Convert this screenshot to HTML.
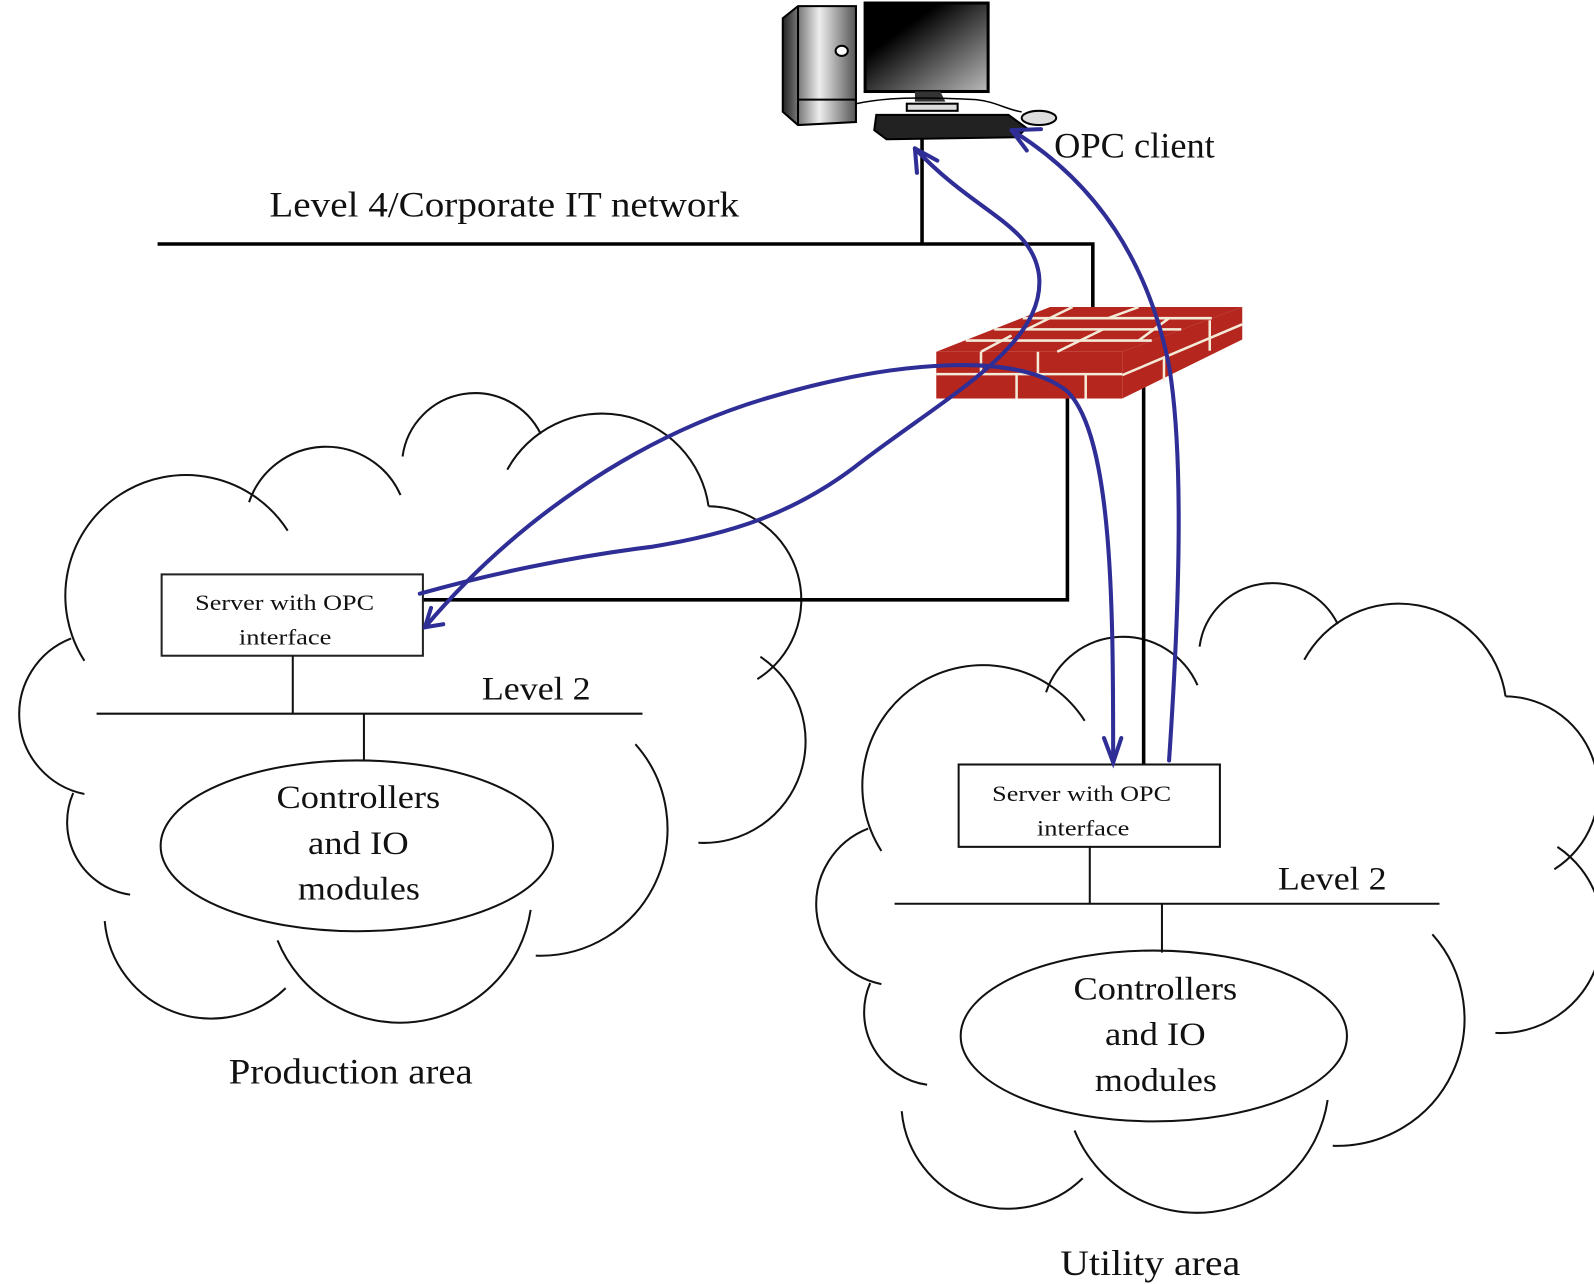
<!DOCTYPE html>
<html><head><meta charset="utf-8"><style>
html,body{margin:0;padding:0;background:#fff;}
svg{display:block;}
text{font-family:"Liberation Serif",serif;fill:#111;}
</style></head><body>
<svg width="1594" height="1284" viewBox="0 0 1568 1263" preserveAspectRatio="none" xmlns="http://www.w3.org/2000/svg">
<defs>
<g id="cloud" fill="none" stroke="#111" stroke-width="2">
<path d="M83,650 A118,118 0 0 1 283,522"/>
<path d="M245,494 A80,80 0 0 1 394,487"/>
<path d="M396,449 A72,72 0 0 1 532,427"/>
<path d="M499,462 A106,106 0 0 1 697,498"/>
<path d="M697,498 A92,92 0 0 1 745,668"/>
<path d="M748,646 A100,100 0 0 1 687,829"/>
<path d="M625,732 A125,125 0 0 1 527,940"/>
<path d="M522,895 A130,130 0 0 1 273,925"/>
<path d="M281,972 A105,105 0 0 1 103,906"/>
<path d="M128,880 A72,72 0 0 1 72,780"/>
<path d="M83,781 A80,80 0 0 1 70,628"/>
</g>
<linearGradient id="mon" x1="0" y1="0" x2="1" y2="1"><stop offset="0.3" stop-color="#000"/><stop offset="1" stop-color="#bbb"/></linearGradient>
<linearGradient id="tow" x1="0" y1="0" x2="1" y2="0"><stop offset="0" stop-color="#222"/><stop offset="0.5" stop-color="#eee"/><stop offset="1" stop-color="#555"/></linearGradient>
</defs>

<use href="#cloud"/>
<use href="#cloud" transform="translate(784,187)"/>

<!-- computer -->
<polygon points="770,18 785,6 842,6 842,120 785,123 770,110" fill="url(#tow)" stroke="#000" stroke-width="2"/>
<line x1="785" y1="6" x2="785" y2="123" stroke="#000" stroke-width="2"/>
<line x1="785" y1="98" x2="842" y2="98" stroke="#000" stroke-width="2"/>
<ellipse cx="828" cy="50" rx="6" ry="5" fill="#fff" stroke="#000" stroke-width="2"/>
<rect x="851" y="3" width="121" height="87" fill="url(#mon)" stroke="#000" stroke-width="3"/>
<polygon points="900,90 925,90 930,100 900,100" fill="#333"/>
<rect x="892" y="102" width="50" height="7" fill="#ddd" stroke="#000" stroke-width="2"/>
<path d="M842,102 C870,96 900,95 960,98 C980,100 990,108 1005,110" fill="none" stroke="#000" stroke-width="1.5"/>
<polygon points="862,113 992,113 1010,126 1000,135 872,137 860,128" fill="#222" stroke="#000" stroke-width="2"/>
<ellipse cx="1022" cy="116" rx="17" ry="7" fill="#ddd" stroke="#000" stroke-width="2"/>

<g stroke="#000" stroke-width="3.5" fill="none">
<line x1="907" y1="136" x2="907" y2="240"/>
<polyline points="155,240 1075,240 1075,302"/>
<polyline points="416,590 1050,590 1050,392"/>
<line x1="1125" y1="380" x2="1125" y2="752"/>
</g>

<!-- firewall -->
<g>
<polygon points="921,346 1104,346 1222,302 1033,302" fill="#b5261e"/>
<rect x="921" y="346" width="183" height="46" fill="#b5261e"/>
<polygon points="1104,346 1222,302 1222,334 1104,392" fill="#b5261e"/>
<g stroke="#f3ead8" stroke-width="2.5" fill="none">
<line x1="921" y1="368" x2="1104" y2="368"/>
<line x1="1104" y1="369" x2="1222" y2="319"/>
<line x1="950" y1="335" x2="1133" y2="335"/>
<line x1="978" y1="324" x2="1162" y2="324"/>
<line x1="1006" y1="313" x2="1192" y2="313"/>
<line x1="965" y1="346" x2="995" y2="330"/>
<line x1="1040" y1="346" x2="1085" y2="324"/>
<line x1="1010" y1="324" x2="1055" y2="302"/>
<line x1="1090" y1="313" x2="1120" y2="302"/>
<line x1="1120" y1="335" x2="1150" y2="313"/>
<line x1="1000" y1="368" x2="1000" y2="392"/>
<line x1="1068" y1="368" x2="1068" y2="392"/>
<line x1="965" y1="346" x2="965" y2="368"/>
<line x1="1021" y1="346" x2="1021" y2="368"/>
<line x1="1145" y1="352" x2="1145" y2="375"/>
<line x1="1190" y1="315" x2="1190" y2="345"/>
</g>
</g>

<rect x="159" y="565" width="257" height="80" fill="#fff" stroke="#222" stroke-width="2"/>
<rect x="943" y="752" width="257" height="81" fill="#fff" stroke="#111" stroke-width="2"/>
<g stroke="#111" stroke-width="2" fill="none">
<line x1="288" y1="645" x2="288" y2="702"/>
<line x1="95" y1="702" x2="632" y2="702"/>
<line x1="358" y1="702" x2="358" y2="749"/>
<ellipse cx="351" cy="832" rx="193" ry="84"/>
<line x1="1072" y1="833" x2="1072" y2="889"/>
<line x1="880" y1="889" x2="1416" y2="889"/>
<line x1="1143" y1="889" x2="1143" y2="937"/>
<ellipse cx="1135" cy="1019" rx="190" ry="84"/>
</g>

<g stroke="#2e2e96" stroke-width="4" fill="none" stroke-linecap="round">
<path d="M413,584 C480,565 560,548 640,538 C720,525 780,505 840,460 C930,390 1030,340 1022,270 C1015,220 960,210 900,146"/>
<path d="M900,146 L902,170 M900,146 L922,158"/>
<path d="M418,617 C500,520 620,430 760,390 C880,355 1000,345 1050,385 C1095,430 1095,600 1095,750"/>
<path d="M418,617 L424,598 M418,617 L436,614"/>
<path d="M1086,726 L1095,750 L1103,726"/>
<path d="M1150,748 C1160,600 1165,450 1150,360 C1130,260 1080,180 995,128"/>
<path d="M995,128 L1024,127 M995,128 L1010,148"/>
</g>

<text x="265" y="213" font-size="35" textLength="462" lengthAdjust="spacingAndGlyphs">Level 4/Corporate IT network</text>
<text x="1037" y="155" font-size="35" textLength="158" lengthAdjust="spacingAndGlyphs">OPC client</text>
<text x="192" y="600" font-size="22" textLength="176" lengthAdjust="spacingAndGlyphs">Server with OPC</text>
<text x="235" y="634" font-size="22" textLength="91" lengthAdjust="spacingAndGlyphs">interface</text>
<text x="976" y="788" font-size="22" textLength="176" lengthAdjust="spacingAndGlyphs">Server with OPC</text>
<text x="1020" y="822" font-size="22" textLength="91" lengthAdjust="spacingAndGlyphs">interface</text>
<text x="474" y="688" font-size="32" textLength="107" lengthAdjust="spacingAndGlyphs">Level 2</text>
<text x="1257" y="875" font-size="32" textLength="107" lengthAdjust="spacingAndGlyphs">Level 2</text>
<g font-size="32">
<text x="272" y="795" textLength="161" lengthAdjust="spacingAndGlyphs">Controllers</text>
<text x="303" y="840" textLength="99" lengthAdjust="spacingAndGlyphs">and IO</text>
<text x="293" y="885" textLength="120" lengthAdjust="spacingAndGlyphs">modules</text>
<text x="1056" y="983" textLength="161" lengthAdjust="spacingAndGlyphs">Controllers</text>
<text x="1087" y="1028" textLength="99" lengthAdjust="spacingAndGlyphs">and IO</text>
<text x="1077" y="1073" textLength="120" lengthAdjust="spacingAndGlyphs">modules</text>
</g>
<text x="225" y="1066" font-size="35" textLength="240" lengthAdjust="spacingAndGlyphs">Production area</text>
<text x="1043" y="1254" font-size="35" textLength="177" lengthAdjust="spacingAndGlyphs">Utility area</text>
</svg>
</body></html>
